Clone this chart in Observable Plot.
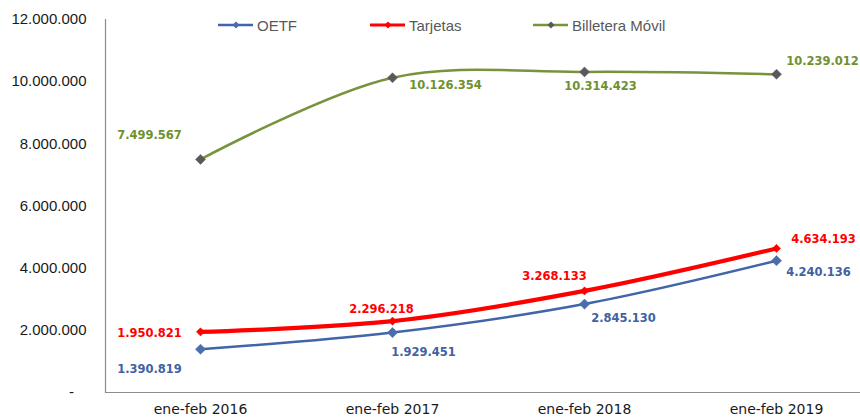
<!DOCTYPE html>
<html>
<head>
<meta charset="utf-8">
<script src="https://cdn.jsdelivr.net/npm/d3@7"></script>
<script src="https://cdn.jsdelivr.net/npm/@observablehq/plot@0.6"></script>
<style>
  html, body { margin: 0; padding: 0; background: #fff; }
  #wrap { position: relative; width: 860px; height: 417px; }
  #legend { position: absolute; top: 15px; left: 0; width: 860px; height: 20px;
            font-family: "Liberation Sans", Arial, sans-serif; font-size: 15px; color: #595959; }
  .item { position: absolute; top: 0; display: flex; align-items: center; height: 20px; }
  .item svg { margin-right: 3px; }
</style>
</head>
<body>
<div id="wrap">
  <div id="chart"></div>
  <div id="legend"></div>
</div>
<script>
// ---- data ----
const periods = ["ene-feb 2016", "ene-feb 2017", "ene-feb 2018", "ene-feb 2019"];
const seriesNames = ["OETF", "Tarjetas", "Billetera Móvil"];
const oetf = [1390819, 1929451, 2845130, 4240136];
const tarjetas = [1950821, 2296218, 3268133, 4634193];
const billetera = [7499567, 10126354, 10314423, 10239012];
const yTicks = [0, 2000000, 4000000, 6000000, 8000000, 10000000, 12000000];

// ---- styles (not data) ----
const styles = {
  "OETF": {line: "#4065A8", marker: "#4A6DAE", label: "#3F62A2", width: 2.5, r: 4.6},
  "Tarjetas": {line: "#FF0000", marker: "#FF0000", label: "#FF0000", width: 4.2, r: 3.7},
  "Billetera Móvil": {line: "#77933C", marker: "#595959", label: "#6F9130", width: 2.5, r: 4.5}
};
// label offsets (pixels) relative to each point
const offsets = {
  "OETF": [[-51, 20], [31, 20], [39, 14], [42, 12]],
  "Tarjetas": [[-51, 1], [-11, -12], [-30, -15], [47, -9]],
  "Billetera Móvil": [[-51, -24], [53, 8], [16, 14], [46, -13]]
};

const valuesBySeries = {"OETF": oetf, "Tarjetas": tarjetas, "Billetera Móvil": billetera};
const rows = [];
for (const s of seriesNames) {
  valuesBySeries[s].forEach((v, i) => rows.push({series: s, period: periods[i], value: v, i}));
}

const loc = d3.formatLocale({decimal: ",", thousands: ".", grouping: [3], currency: ["", ""]});
const fmt = loc.format(",d");

const marks = [
  Plot.ruleY([0], {stroke: "#8c8c8c", strokeWidth: 1.2}),
  Plot.frame({anchor: "left", stroke: "#8c8c8c", strokeWidth: 1.2})
];
// draw order: green, blue, red
for (const s of ["Billetera Móvil", "OETF", "Tarjetas"]) {
  const data = rows.filter(d => d.series === s);
  const st = styles[s];
  marks.push(Plot.line(data, {x: "period", y: "value", stroke: st.line, strokeWidth: st.width, curve: "catmull-rom"}));
  marks.push(Plot.dot(data, {x: "period", y: "value", symbol: "diamond2", r: st.r, fill: st.marker, stroke: st.marker, strokeWidth: 0.5}));
}
for (const s of seriesNames) {
  const data = rows.filter(d => d.series === s);
  const st = styles[s];
  data.forEach((d, i) => {
    marks.push(Plot.text([d], {
      x: "period", y: "value", text: d => fmt(d.value),
      dx: offsets[s][i][0], dy: offsets[s][i][1],
      fill: st.label, fontWeight: "bold", fontSize: 11.5,
      fontFamily: "DejaVu Sans, Verdana, sans-serif"
    }));
  });
}

const chart = Plot.plot({
  width: 860,
  height: 417,
  marginLeft: 105,
  marginRight: 0,
  marginTop: 19,
  marginBottom: 25,
  style: {fontFamily: "Liberation Sans, Arial, sans-serif", background: "#fff", overflow: "visible"},
  x: {type: "point", domain: periods, range: [200, 776], padding: 0, label: null, axis: null},
  y: {domain: [0, 12000000], label: null, axis: null},
  marks: [
    Plot.axisY(yTicks, {tickSize: 0, tickPadding: 19, fontSize: 15, fill: "#1a1a1a",
      tickFormat: v => v === 0 ? "-\u00a0\u00a0\u00a0" : fmt(v), label: null,
      fontFamily: "Liberation Sans, Arial, sans-serif"}),
    Plot.axisX(periods, {tickSize: 0, tickPadding: 12, fontSize: 14, fill: "#1a1a1a", label: null,
      fontFamily: "DejaVu Sans, sans-serif"}),
    ...marks
  ]
});
document.getElementById("chart").appendChild(chart);

// legend
const legendPos = {"OETF": 218, "Tarjetas": 370, "Billetera Móvil": 533};
const legend = document.getElementById("legend");
for (const s of seriesNames) {
  const st = styles[s];
  const div = document.createElement("div");
  div.className = "item";
  div.style.left = legendPos[s] + "px";
  div.innerHTML = `<svg width="36" height="12"><line x1="0" y1="6" x2="35" y2="6" stroke="${st.line}" stroke-width="${Math.min(st.width, 3.2)}"/>` +
    `<path d="M18,2.5 L21.5,6 L18,9.5 L14.5,6 Z" fill="${st.marker}"/></svg><span>${s}</span>`;
  legend.appendChild(div);
}
</script>
</body>
</html>
